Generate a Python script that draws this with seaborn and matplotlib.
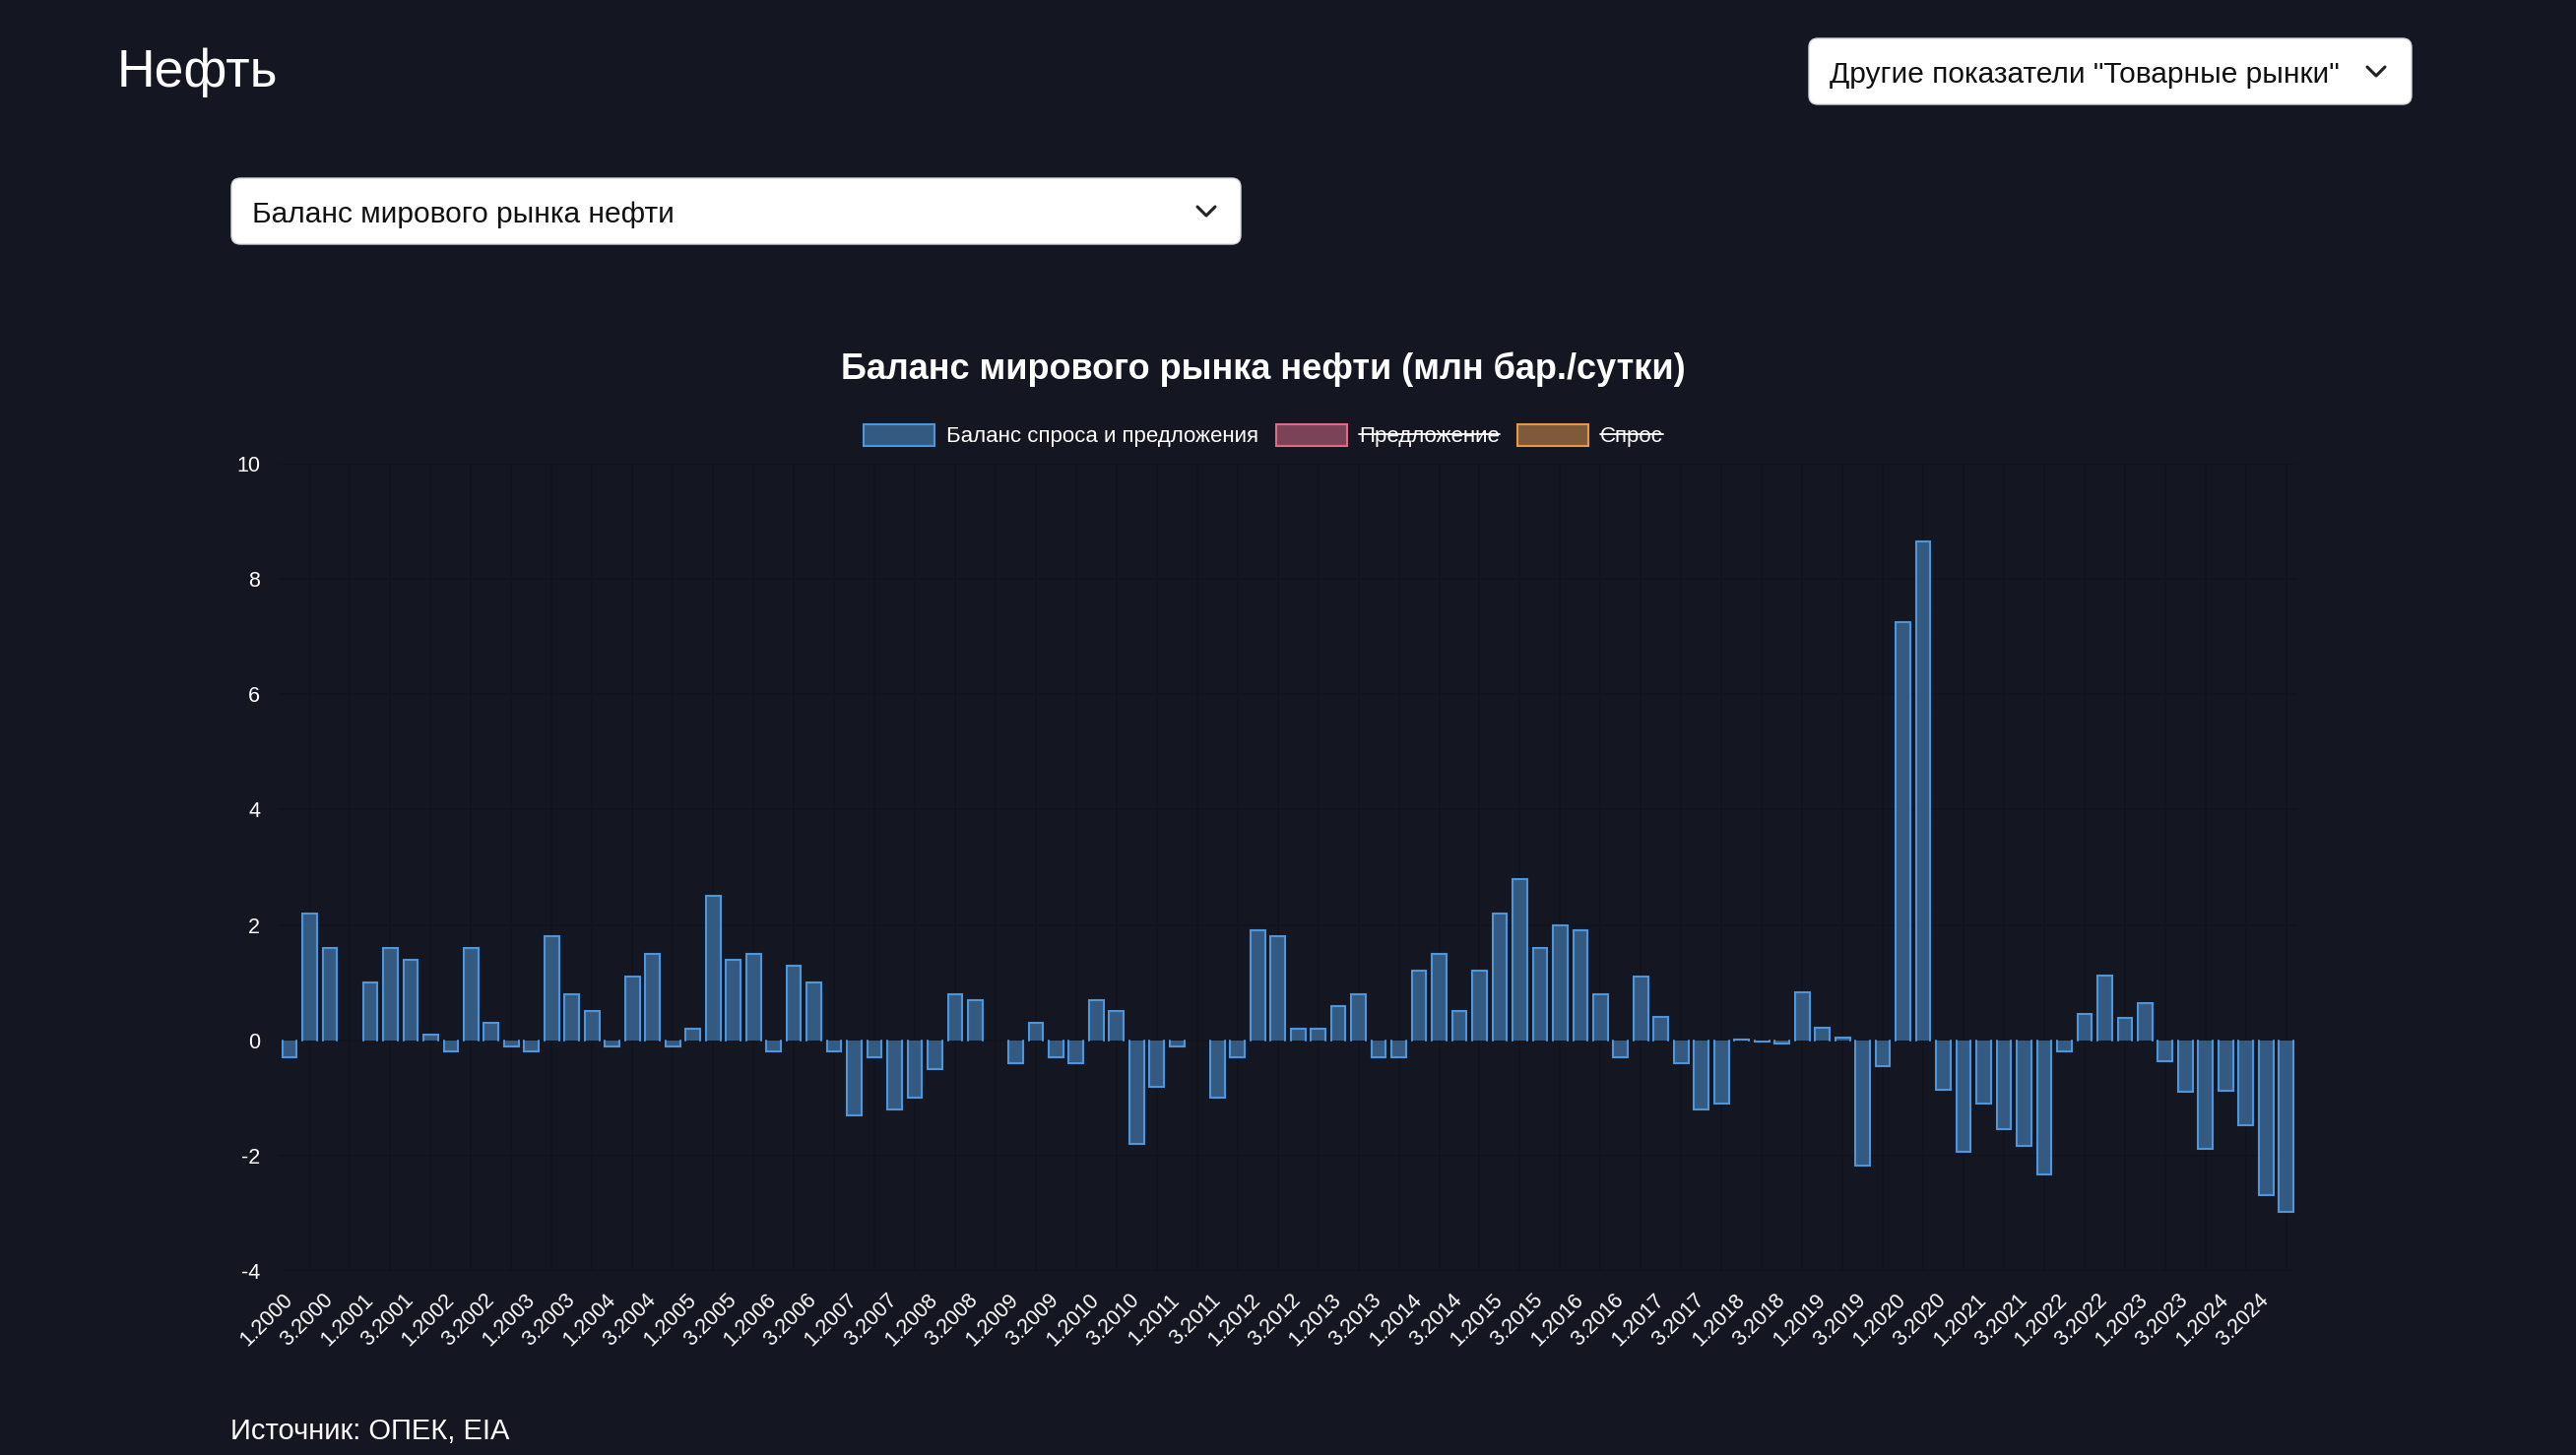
import numpy as np
import pandas as pd
import matplotlib
matplotlib.use("Agg")
import matplotlib.pyplot as plt
import seaborn as sns
from matplotlib.patches import FancyBboxPatch, Rectangle
from matplotlib.lines import Line2D
from matplotlib.transforms import IdentityTransform

# ---------------- data ----------------
years = list(range(2000, 2025))
quarters = [1, 2, 3, 4]
periods = [f"{q}.{y}" for y in years for q in quarters]

balance = [
    -0.30, 2.20, 1.60, 0.00,   # 2000
    1.00, 1.60, 1.40, 0.10,    # 2001
    -0.20, 1.60, 0.30, -0.10,  # 2002
    -0.20, 1.80, 0.80, 0.50,   # 2003
    -0.10, 1.10, 1.50, -0.10,  # 2004
    0.20, 2.50, 1.40, 1.50,    # 2005
    -0.20, 1.30, 1.00, -0.20,  # 2006
    -1.30, -0.30, -1.20, -1.00,  # 2007
    -0.50, 0.80, 0.70, 0.00,   # 2008
    -0.40, 0.30, -0.30, -0.40,  # 2009
    0.70, 0.50, -1.80, -0.80,  # 2010
    -0.10, 0.00, -1.00, -0.30,  # 2011
    1.90, 1.80, 0.20, 0.20,    # 2012
    0.60, 0.80, -0.30, -0.30,  # 2013
    1.20, 1.50, 0.50, 1.20,    # 2014
    2.20, 2.80, 1.60, 2.00,    # 2015
    1.90, 0.80, -0.30, 1.10,   # 2016
    0.40, -0.40, -1.20, -1.10,  # 2017
    0.01, -0.02, -0.05, 0.83,  # 2018
    0.22, 0.04, -2.17, -0.45,  # 2019
    7.25, 8.65, -0.85, -1.94,  # 2020
    -1.09, -1.54, -1.84, -2.32,  # 2021
    -0.20, 0.45, 1.12, 0.38,   # 2022
    0.65, -0.37, -0.90, -1.88,  # 2023
    -0.88, -1.48, -2.68, -2.98,  # 2024
]

y_ticks = [-4, -2, 0, 2, 4, 6, 8, 10]
legend_labels = ["Баланс спроса и предложения", "Предложение", "Спрос"]
legend_hidden = [False, True, True]

chart_title = "Баланс мирового рынка нефти (млн бар./сутки)"
page_title = "Нефть"
dropdown_top = 'Другие показатели "Товарные рынки"'
dropdown_chart = "Баланс мирового рынка нефти"
source_text = "Источник: ОПЕК, EIA"

# ---------------- style ----------------
BG = "#141722"
GRID = "#11141d"
BAR_FILL = "#345a82"
BAR_EDGE = "#4d96dc"
LEG_FILLS = ["#345a82", "#7a4358", "#7f5a3a"]
LEG_EDGES = ["#4d96dc", "#e06a85", "#e8964a"]

sns.set_theme(style="dark")
plt.rcParams["font.family"] = ["Liberation Sans", "DejaVu Sans"]

W, H = 2616, 1478
fig = plt.figure(figsize=(W / 100, H / 100), dpi=100, facecolor=BG)
ax = fig.add_axes([283.8 / W, 1 - 1291 / H, (2332 - 283.8) / W, (1291 - 471) / H])
ax.set_facecolor(BG)

df = pd.DataFrame({"period": periods, "balance": balance})
sns.barplot(data=df, x="period", y="balance", order=periods, color=BAR_FILL,
            saturation=1, width=0.72, edgecolor="none", linewidth=0,
            errorbar=None, ax=ax)

# three-sided border (base side left open), derived from bar geometry
for p in ax.patches:
    x0, w = p.get_x(), p.get_width()
    y0, h = p.get_y(), p.get_height()
    if abs(h) < 1e-9:
        continue
    ax.add_line(Line2D([x0, x0, x0 + w, x0 + w], [y0, y0 + h, y0 + h, y0],
                       color=BAR_EDGE, lw=1.5, solid_joinstyle="miter", zorder=3))

ax.set_xlim(-0.5, len(periods) - 0.5)
ax.set_ylim(min(y_ticks), max(y_ticks))
ax.set_yticks(y_ticks)
ax.set_yticklabels([str(t) for t in y_ticks])
ax.set_xticks(np.arange(0, len(periods), 2))
ax.set_xticklabels(periods[::2])
ax.set_xticks(np.arange(1, len(periods), 2), minor=True)
ax.set_xlabel("")
ax.set_ylabel("")

ax.grid(False)
ax.grid(which="minor", axis="x", color=GRID, lw=1.2)
ax.grid(which="major", axis="y", color=GRID, lw=1.2)
ax.set_axisbelow(True)
for s in ax.spines.values():
    s.set_visible(False)

ax.tick_params(axis="y", which="both", length=0, pad=14, labelsize=15.5, labelcolor="white")
ax.tick_params(axis="x", which="both", length=0, pad=19, labelsize=15.5, labelcolor="white")
for lab in ax.get_xticklabels():
    lab.set_rotation(45)
    lab.set_ha("right")
    lab.set_va("center")
    lab.set_rotation_mode("anchor")

# ---------------- title ----------------
fig.text(1283 / W, 1 - 385 / H, chart_title, ha="center", va="baseline",
         fontsize=26, fontweight="bold", color="white")

# ---------------- legend ----------------
ident = IdentityTransform()
renderer = fig.canvas.get_renderer()
yc = H - 441.5
box_w, box_h, gap, item_gap = 72, 22, 12, 18
texts = []
for lab in legend_labels:
    t = fig.text(0, yc, lab, fontsize=16, color="white", ha="left",
                 va="center_baseline", transform=ident)
    texts.append((t, t.get_window_extent(renderer).width))
total = sum(box_w + gap + w for _, w in texts) + item_gap * (len(texts) - 1)
x = 1283 - total / 2
for (t, w), fc, ec, hidden in zip(texts, LEG_FILLS, LEG_EDGES, legend_hidden):
    fig.add_artist(Rectangle((x, yc - box_h / 2), box_w, box_h, transform=ident,
                             facecolor=fc, edgecolor=ec, lw=1.5))
    t.set_position((x + box_w + gap, yc))
    if hidden:
        fig.add_artist(Line2D([x + box_w + gap, x + box_w + gap + w], [yc + 1, yc + 1],
                              transform=ident, color="white", lw=1.3))
    x += box_w + gap + w + item_gap

# ---------------- page elements ----------------
fig.text(119 / W, 1 - 88 / H, page_title, ha="left", va="baseline",
         fontsize=38.5, color="white")


def dropdown(x0, top, w, h, label, chevron_x):
    y0 = H - top - h
    fig.add_artist(FancyBboxPatch((x0, y0), w, h,
                                  boxstyle="round,pad=0,rounding_size=9",
                                  transform=ident, facecolor="white",
                                  edgecolor="#d5d9df", lw=1))
    cy = y0 + h / 2
    fig.text(x0 + 21, cy, label, ha="left", va="center_baseline",
             fontsize=21.5, color="#111111", transform=ident)
    fig.add_artist(Line2D([chevron_x - 9, chevron_x, chevron_x + 9],
                          [cy + 4.5, cy - 4.5, cy + 4.5], transform=ident,
                          color="#222222", lw=2.2))


dropdown(1837, 39, 612, 67, dropdown_top, 2413)
dropdown(235, 181, 1025, 67, dropdown_chart, 1225)

fig.text(234 / W, 1 - 1451 / H, source_text, ha="left", va="center_baseline",
         fontsize=21, color="white")

fig.savefig("out.png", dpi=100, facecolor=BG)
